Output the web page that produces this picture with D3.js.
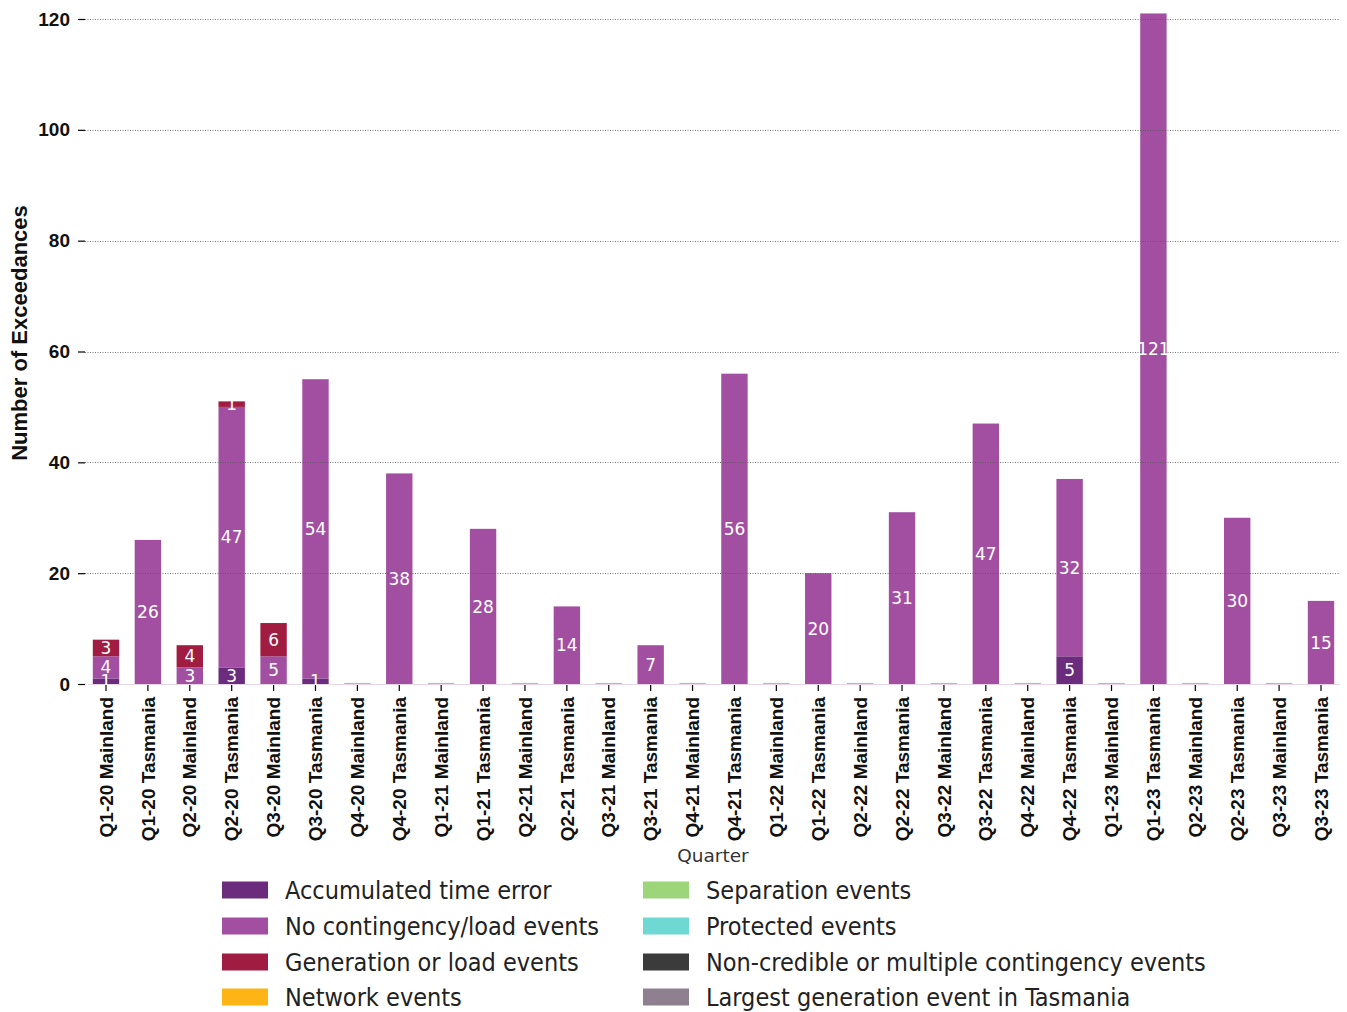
<!DOCTYPE html>
<html>
<head>
<meta charset="utf-8">
<script src="https://cdn.jsdelivr.net/npm/d3@7"></script>
<style>
  html, body { margin: 0; padding: 0; background: #fff; }
  svg { display: block; }
</style>
</head>
<body>
<svg id="chart" width="1347" height="1012"></svg>
<script>
// ---- Data ----
const categories = [
  "Q1-20 Mainland","Q1-20 Tasmania","Q2-20 Mainland","Q2-20 Tasmania",
  "Q3-20 Mainland","Q3-20 Tasmania","Q4-20 Mainland","Q4-20 Tasmania",
  "Q1-21 Mainland","Q1-21 Tasmania","Q2-21 Mainland","Q2-21 Tasmania",
  "Q3-21 Mainland","Q3-21 Tasmania","Q4-21 Mainland","Q4-21 Tasmania",
  "Q1-22 Mainland","Q1-22 Tasmania","Q2-22 Mainland","Q2-22 Tasmania",
  "Q3-22 Mainland","Q3-22 Tasmania","Q4-22 Mainland","Q4-22 Tasmania",
  "Q1-23 Mainland","Q1-23 Tasmania","Q2-23 Mainland","Q2-23 Tasmania",
  "Q3-23 Mainland","Q3-23 Tasmania"
];
const seriesNames = [
  "Accumulated time error","No contingency/load events","Generation or load events","Network events",
  "Separation events","Protected events","Non-credible or multiple contingency events","Largest generation event in Tasmania"
];
const seriesColors = ["#6b2c7d","#a24fa2","#a01c40","#fdb515","#9dd67a","#6fd8d3","#3b3b3b","#8e808e"];

const accumulatedTimeError = [1,0,0,3,0,1,0,0,0,0,0,0,0,0,0,0,0,0,0,0,0,0,0,5,0,0,0,0,0,0];
const noContingency       = [4,26,3,47,5,54,0,38,0,28,0,14,0,7,0,56,0,20,0,31,0,47,0,32,0,121,0,30,0,15];
const generationOrLoad    = [3,0,4,1,6,0,0,0,0,0,0,0,0,0,0,0,0,0,0,0,0,0,0,0,0,0,0,0,0,0];
const networkEvents       = [0,0,0,0,0,0,0,0,0,0,0,0,0,0,0,0,0,0,0,0,0,0,0,0,0,0,0,0,0,0];
const separationEvents    = [0,0,0,0,0,0,0,0,0,0,0,0,0,0,0,0,0,0,0,0,0,0,0,0,0,0,0,0,0,0];
const protectedEvents     = [0,0,0,0,0,0,0,0,0,0,0,0,0,0,0,0,0,0,0,0,0,0,0,0,0,0,0,0,0,0];
const nonCredible         = [0,0,0,0,0,0,0,0,0,0,0,0,0,0,0,0,0,0,0,0,0,0,0,0,0,0,0,0,0,0];
const largestGenTas       = [0,0,0,0,0,0,0,0,0,0,0,0,0,0,0,0,0,0,0,0,0,0,0,0,0,0,0,0,0,0];
const seriesValues = [accumulatedTimeError, noContingency, generationOrLoad, networkEvents,
                      separationEvents, protectedEvents, nonCredible, largestGenTas];
const yTicks = [0,20,40,60,80,100,120];

// ---- Build table ----
const table = categories.map((c, i) => {
  const row = { cat: c };
  seriesNames.forEach((s, k) => row[s] = seriesValues[k][i]);
  return row;
});
const stacked = d3.stack().keys(seriesNames)(table);

// ---- Scales ----
const svg = d3.select("#chart");
const plotLeft = 85, plotRight = 1340;
const n = categories.length;
const step = (1321 - 106) / (n - 1);
const x = d3.scaleBand().domain(categories)
  .range([106 - step/2, 1321 + step/2]).paddingInner(0).paddingOuter(0);
const barW = x.bandwidth() * 0.63;
const y = d3.scaleLinear().domain([0, 120]).range([684, 19]);
const color = d3.scaleOrdinal().domain(seriesNames).range(seriesColors);

// ---- Bars ----
const gBars = svg.append("g");
stacked.forEach(layer => {
  gBars.selectAll(null).data(layer.filter(d => d[1] - d[0] > 0)).enter().append("rect")
    .attr("x", d => x(d.data.cat) + (x.bandwidth() - barW) / 2)
    .attr("width", barW)
    .attr("y", d => y(d[1]))
    .attr("height", d => y(d[0]) - y(d[1]))
    .attr("fill", color(layer.key));
});
// zero-height bars shown as a thin edge line
gBars.selectAll(null).data(table.filter(r => d3.sum(seriesNames, s => r[s]) === 0)).enter().append("line")
  .attr("x1", d => x(d.cat) + (x.bandwidth() - barW) / 2)
  .attr("x2", d => x(d.cat) + (x.bandwidth() + barW) / 2)
  .attr("y1", y(0) - 0.5).attr("y2", y(0) - 0.5)
  .attr("stroke", "#b8b8b8").attr("stroke-width", 1.2);

// ---- Grid ----
const gGrid = svg.append("g");
gGrid.selectAll(null).data(yTicks.filter(t => t > 0)).enter().append("line")
  .attr("x1", plotLeft).attr("x2", plotRight)
  .attr("y1", d => Math.round(y(d)) + 0.5).attr("y2", d => Math.round(y(d)) + 0.5)
  .attr("stroke", "#555").attr("stroke-width", 0.8).attr("stroke-dasharray", "1,1.5");
svg.append("line").attr("x1", plotLeft + 3).attr("x2", plotRight)
  .attr("y1", y(0) + 0.5).attr("y2", y(0) + 0.5)
  .attr("stroke", "#e6d6e6").attr("stroke-width", 1);

// ---- Segment labels ----
const gLab = svg.append("g");
stacked.forEach(layer => {
  gLab.selectAll(null).data(layer.filter(d => d[1] - d[0] > 0)).enter().append("text")
    .attr("x", d => x(d.data.cat) + x.bandwidth() / 2)
    .attr("y", d => (y(d[0]) + y(d[1])) / 2)
    .attr("dy", "0.36em")
    .attr("text-anchor", "middle")
    .attr("fill", "#fff")
    .attr("font-family", "DejaVu Sans, sans-serif")
    .attr("font-size", 17)
    .text(d => d[1] - d[0]);
});

// ---- Y axis ----
const yAxis = d3.axisLeft(y).tickValues(yTicks).tickSize(7).tickPadding(8);
const gy = svg.append("g").attr("transform", `translate(${plotLeft},0)`).call(yAxis);
gy.select(".domain").remove();
gy.selectAll(".tick line").attr("stroke", "#000").attr("stroke-width", 1.2);
gy.selectAll(".tick text").attr("font-family", "Liberation Sans, Arial, sans-serif")
  .attr("font-weight", "bold").attr("font-size", 19).attr("fill", "#111");

svg.append("text")
  .attr("transform", `translate(27,333) rotate(-90)`)
  .attr("text-anchor", "middle")
  .attr("font-family", "Liberation Sans, Arial, sans-serif")
  .attr("font-weight", "bold").attr("font-size", 22).attr("fill", "#111")
  .text("Number of Exceedances");

// ---- X axis ----
const xAxis = d3.axisBottom(x).tickSize(6).tickPadding(6);
const gx = svg.append("g").attr("transform", `translate(0,${y(0) + 1})`).call(xAxis);
gx.select(".domain").remove();
gx.selectAll(".tick line").attr("stroke", "#000").attr("stroke-width", 1.2);
gx.selectAll(".tick text")
  .attr("font-family", "Liberation Sans, Arial, sans-serif")
  .attr("font-weight", "bold").attr("font-size", 19).attr("fill", "#111")
  .attr("text-anchor", "end")
  .attr("transform", "rotate(-90)")
  .attr("x", -12).attr("y", 0).attr("dy", "0.35em");

svg.append("text")
  .attr("x", 713).attr("y", 862)
  .attr("text-anchor", "middle")
  .attr("font-family", "DejaVu Sans, sans-serif")
  .attr("font-size", 18.5).attr("fill", "#333")
  .text("Quarter");

// ---- Legend ----
const legCols = [222, 643];
const legRows = [890, 926, 962, 997];
const gLeg = svg.append("g");
seriesNames.forEach((s, k) => {
  const cx = legCols[Math.floor(k / 4)];
  const cy = legRows[k % 4];
  gLeg.append("rect").attr("x", cx).attr("y", cy - 8.5).attr("width", 46).attr("height", 17)
    .attr("fill", seriesColors[k]);
  gLeg.append("text").attr("x", cx + 63).attr("y", cy).attr("dy", "0.36em")
    .attr("font-family", "DejaVu Sans Condensed, DejaVu Sans, sans-serif")
    .attr("font-stretch", "condensed")
    .attr("font-size", 25).attr("fill", "#222")
    .text(s);
});
</script>
</body>
</html>
